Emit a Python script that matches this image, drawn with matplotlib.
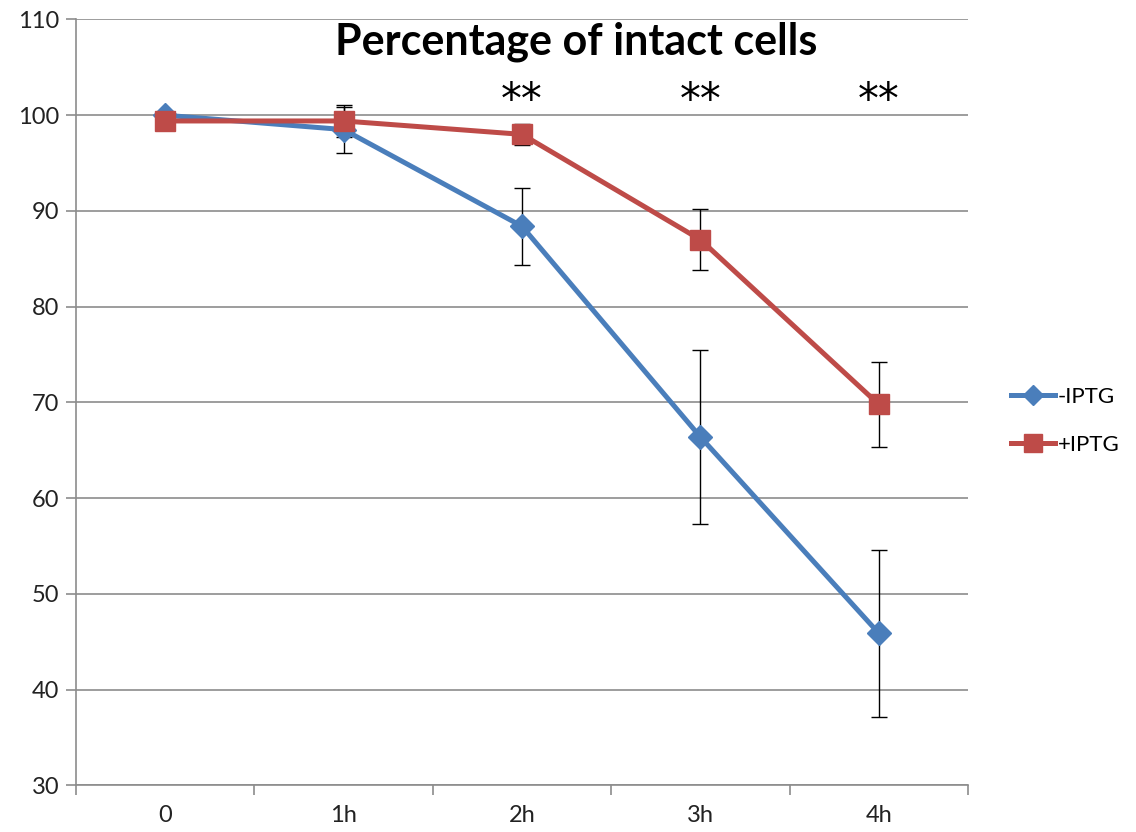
import numpy as np
import matplotlib.pyplot as plt

plt.rcParams['font.family'] = ['Lato', 'DejaVu Sans']

categories = ['0', '1h', '2h', '3h', '4h']
minus_iptg = [100.0, 98.5, 88.4, 66.4, 45.9]
minus_err = [0.0, 2.4, 4.0, 9.1, 8.7]
plus_iptg = [99.4, 99.4, 98.0, 87.0, 69.8]
plus_err = [0.0, 1.7, 1.1, 3.2, 4.4]
stars = ['', '', '**', '**', '**']

blue = '#4A7EBB'
red = '#BE4B48'
grid_col = '#8C8C8C'

fig = plt.figure(figsize=(11.36, 8.32), dpi=100)
ax = fig.add_axes([0.0669, 0.0559, 0.7852, 0.9207])

x = np.arange(len(categories))

# error bars under the markers
ax.errorbar(x, minus_iptg, yerr=minus_err, fmt='none', ecolor='black',
            elinewidth=1.0, capsize=6, capthick=1.0, zorder=2)
ax.errorbar(x, plus_iptg, yerr=plus_err, fmt='none', ecolor='black',
            elinewidth=1.0, capsize=6, capthick=1.0, zorder=2)

ax.plot(x, minus_iptg, color=blue, lw=3.6, marker='D', markersize=12,
        label='-IPTG', zorder=3)
ax.plot(x, plus_iptg, color=red, lw=3.6, marker='s', markersize=15,
        label='+IPTG', zorder=4)

for xi, s in zip(x, stars):
    if s:
        ax.text(xi, 101.5, s, ha='center', va='center', fontsize=30,
                family='DejaVu Sans', color='black')

ax.set_xlim(-0.5, 4.5)
ax.set_ylim(30, 110)
ax.set_yticks(np.arange(30, 111, 10))
ax.yaxis.grid(True, color=grid_col, lw=1.2)
ax.set_axisbelow(True)

ax.set_xticks(x)
ax.set_xticklabels(categories)
ax.set_xticks(np.arange(-0.5, 4.6, 1), minor=True)
ax.tick_params(axis='x', which='major', length=0, pad=14, labelsize=17, colors='#222222')
ax.tick_params(axis='x', which='minor', length=7, color=grid_col, width=1.2)
ax.tick_params(axis='y', length=7, color=grid_col, width=1.2, pad=5,
               labelsize=17, labelcolor='#222222')

for side in ['top', 'right']:
    ax.spines[side].set_visible(False)
for side in ['left', 'bottom']:
    ax.spines[side].set_color(grid_col)
    ax.spines[side].set_linewidth(1.2)

fig.text(576 / 1136, 1 - 42 / 832, 'Percentage of intact cells', ha='center',
         va='center', fontsize=31, fontweight='bold')

leg = fig.legend(loc='center left', bbox_to_anchor=(0.886, 0.494), frameon=False,
                 fontsize=16, handlelength=2.0, handletextpad=0.1,
                 labelspacing=1.25, borderpad=0.2, borderaxespad=0)
for h in leg.legend_handles:
    h.set_markersize(h.get_markersize() * 0.85)

fig.savefig('out.png', dpi=100)
